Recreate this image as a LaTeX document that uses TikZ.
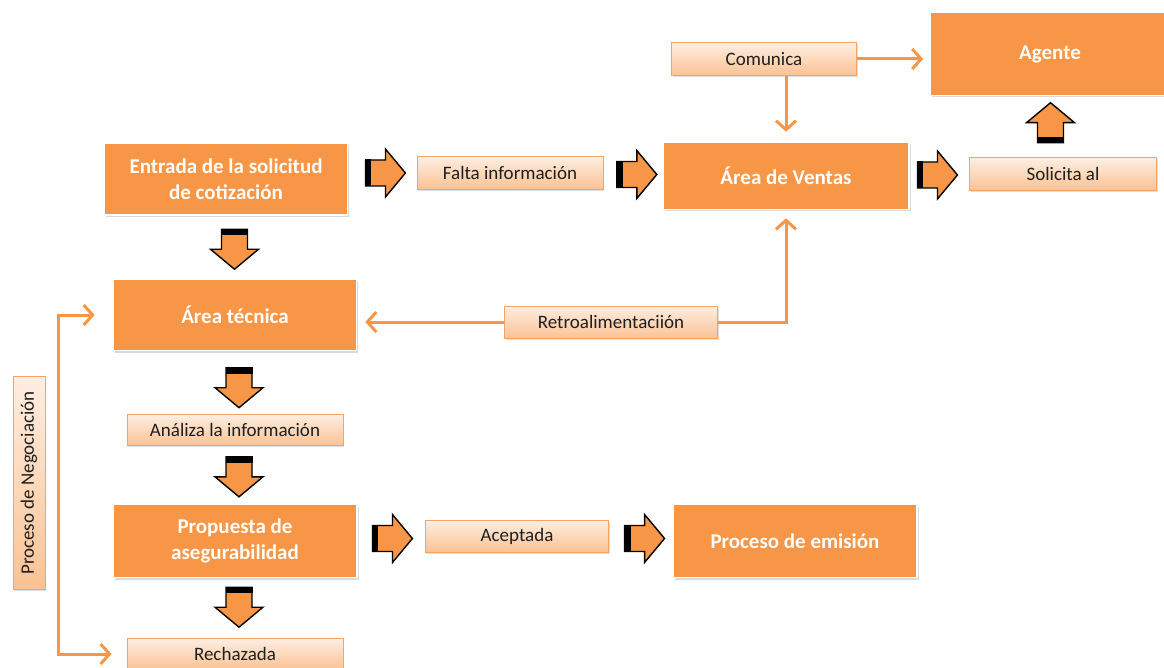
\documentclass[tikz,border=0pt]{standalone}
\usepackage{fontspec}
\setmainfont{Carlito}
\usepackage{tikz}
\usetikzlibrary{arrows.meta, positioning, calc, shadows}
\usepackage{xcolor}
\definecolor{procorange}{HTML}{F79646}
\definecolor{peachtop}{HTML}{FEEEE2}
\definecolor{peachbot}{HTML}{FBC293}
\definecolor{peachedge}{HTML}{F6A464}
\definecolor{labeltext}{HTML}{1F1F1F}

\tikzset{
  fatarrow/.pic={
    \filldraw[fill=procorange, draw=black, line width=1.4pt, line join=miter]
      (-20,-13) -- (0,-13) -- (0,-24) -- (20,0) -- (0,24) -- (0,13)
      -- (-20,13) -- cycle;
    \fill[black] (-20.5,-13.5) rectangle (-14,13.5);
  }
}

\begin{document}
\begin{tikzpicture}[
  x=1pt, y=-1pt,
  mainbox/.style={draw=white, line width=1.6pt, fill=procorange,
    text=white, font=\fontsize{21}{26}\selectfont\bfseries, align=center,
    drop shadow={opacity=0.3, shadow xshift=1.5pt, shadow yshift=-2pt}},
  labelbox/.style={draw=peachedge, line width=0.8pt,
    top color=peachtop, bottom color=peachbot, text=labeltext,
    font=\fontsize{19}{21}\selectfont, align=center,
    drop shadow={opacity=0.25, shadow xshift=1pt, shadow yshift=-1.5pt}},
  conn/.style={draw=procorange, line width=3pt,
    >={Straight Barb[length=9pt, width=20pt, line width=3pt]}, ->}
]
  \useasboundingbox (0,0) rectangle (1164,668);

  % Main column
  \node[mainbox, minimum width=243pt, minimum height=72pt] (entrada)
    at (226,179) {Entrada de la solicitud\\de cotización};
  \node[mainbox, minimum width=243pt, minimum height=71pt] (tecnica)
    at (235,315) {Área técnica};
  \node[labelbox, minimum width=216pt, minimum height=31pt] (analiza)
    at (235,430) {Análiza la información};
  \node[mainbox, minimum width=244pt, minimum height=73pt] (propuesta)
    at (235,541) {Propuesta de\\asegurabilidad};
  \node[labelbox, minimum width=216pt, minimum height=31pt] (rechazada)
    at (235,654) {Rechazada};

  % Top row
  \node[labelbox, minimum width=186pt, minimum height=33pt] (falta)
    at (510,173) {Falta información};
  \node[mainbox, minimum width=246pt, minimum height=67pt] (ventas)
    at (786,176) {Área de Ventas};
  \node[labelbox, minimum width=187pt, minimum height=33pt] (solicita)
    at (1063,174) {Solicita al};
  \node[mainbox, minimum width=240pt, minimum height=83pt] (agente)
    at (1050,54) {Agente};
  \node[labelbox, minimum width=185pt, minimum height=33pt] (comunica)
    at (764,59) {Comunica};
  \node[labelbox, minimum width=213pt, minimum height=32pt] (retro)
    at (611,322) {Retroalimentaciión};

  % Bottom row
  \node[labelbox, minimum width=183pt, minimum height=32pt] (aceptada)
    at (517,536) {Aceptada};
  \node[mainbox, minimum width=244pt, minimum height=73pt] (emision)
    at (795,541) {Proceso de emisión};

  % Side label
  \node[labelbox, rotate=90, minimum width=213pt, minimum height=32pt]
    (negociacion) at (29,483) {Proceso de Negociación};

  % Block arrows
  \pic[rotate=-90] at ($(entrada.south)!0.5!(tecnica.north)+(4,2)$) {fatarrow};
  \pic[rotate=-90] at ($(tecnica.south)!0.5!(analiza.north)+(4,5)$) {fatarrow};
  \pic[rotate=-90] at ($(analiza.south)!0.5!(propuesta.north)+(4,2)$) {fatarrow};
  \pic[rotate=-90] at ($(propuesta.south)!0.5!(rechazada.north)+(4,-1)$) {fatarrow};
  \pic at ($(entrada.east)!0.5!(falta.west)+(3,-3)$) {fatarrow};
  \pic at ($(falta.east)!0.5!(ventas.west)+(4,0)$) {fatarrow};
  \pic at ($(ventas.east)!0.5!(solicita.west)+(-2,0)$) {fatarrow};
  \pic at ($(propuesta.east)!0.5!(aceptada.west)+(1,0)$) {fatarrow};
  \pic at ($(aceptada.east)!0.5!(emision.west)+(4,0)$) {fatarrow};
  \pic[rotate=90] at ($(solicita.north)!0.5!(agente.south)+(-6,-4)$) {fatarrow};

  % Thin connectors
  \draw[conn] (comunica.east) -- ([xshift=-6pt]agente.west |- comunica.east);
  \draw[conn] (comunica.south -| ventas.north) -- ([yshift=10pt]ventas.north);
  \draw[conn] (retro.east) -| ([yshift=-8pt]ventas.south);
  \draw[conn] (retro.west) -- ([xshift=8pt]tecnica.east |- retro.west);
  \coordinate (brk) at (58,0);
  \draw[conn, <->]
    ([xshift=-18pt]tecnica.west) -- (tecnica.west -| brk)
    |- ([xshift=-15pt]rechazada.west);
\end{tikzpicture}
\end{document}
